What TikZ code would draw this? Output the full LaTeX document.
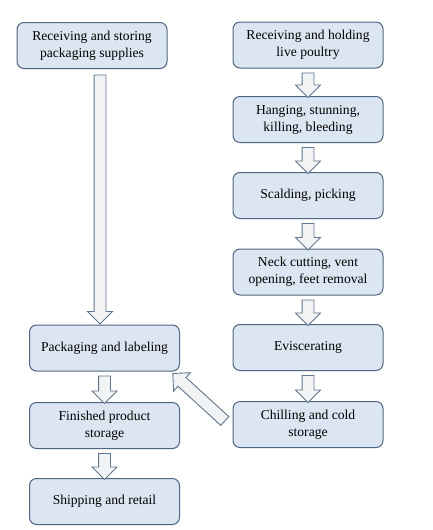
\documentclass[tikz,border=0pt]{standalone}
\usepackage{fontspec}
\setmainfont{Liberation Serif}
\usetikzlibrary{shapes.arrows,calc}
\definecolor{boxfill}{HTML}{DCE6F2}
\definecolor{boxline}{HTML}{4E6580}
\definecolor{arrfill}{HTML}{F2F3F5}
\definecolor{arrline}{HTML}{61758C}
\tikzset{
  procbox/.style={draw=boxline, line width=1pt, fill=boxfill, rounded corners=7pt,
    minimum width=150pt, minimum height=46pt, align=center, inner sep=2pt,
    font=\fontsize{13.6}{17}\selectfont},
  barrow/.style={single arrow, draw=arrline, fill=arrfill, line width=0.9pt,
    single arrow head extend=6.5pt, inner xsep=0pt, inner ysep=5.5pt,
    minimum width=0pt, shape border uses incircle=false, anchor=center}
}
\newcommand\blockarrow[3]{%
  \path let \p1=(#1), \p2=(#2),
    \n1={veclen(\x2-\x1,\y2-\y1)}, \n2={atan2(\y2-\y1,\x2-\x1)} in
    node[barrow, rotate=\n2, minimum height=\n1] (#3) at ($(#1)!0.5!(#2)$) {};}
\begin{document}
\begin{tikzpicture}[x=1pt,y=-1pt]
\useasboundingbox (0,0) rectangle (432,530);
% left column
\node[procbox] (l1) at (92,45.5) {Receiving and storing\\packaging supplies};
\node[procbox] (l2) at (104.5,348) {Packaging and labeling};
\node[procbox] (l3) at (104.5,425.5) {Finished product\\storage};
\node[procbox] (l4) at (104.5,501.5) {Shipping and retail};
% right column
\node[procbox] (r1) at (308,45) {Receiving and holding\\live poultry};
\node[procbox] (r2) at (308,119.5) {Hanging, stunning,\\killing, bleeding};
\node[procbox] (r3) at (308,195.5) {Scalding, picking};
\node[procbox] (r4) at (308,272) {Neck cutting, vent\\opening, feet removal};
\node[procbox] (r5) at (308,347.5) {Eviscerating};
\node[procbox] (r6) at (308,424.5) {Chilling and cold\\storage};
% arrow end points
\coordinate (r1b) at ($(r1.south)+(0,1.5)$); \coordinate (r2t) at ($(r2.north)+(0,-1.5)$);
\coordinate (r2b) at ($(r2.south)+(0,1.5)$); \coordinate (r3t) at ($(r3.north)+(0,-1.5)$);
\coordinate (r3b) at ($(r3.south)+(0,1.5)$); \coordinate (r4t) at ($(r4.north)+(0,-1.5)$);
\coordinate (r4b) at ($(r4.south)+(0,1.5)$); \coordinate (r5t) at ($(r5.north)+(0,-1.5)$);
\coordinate (r5b) at ($(r5.south)+(0,1.5)$); \coordinate (r6t) at ($(r6.north)+(0,-1.5)$);
\coordinate (l2b) at ($(l2.south)+(0,1.5)$); \coordinate (l3t) at ($(l3.north)+(0,-1.5)$);
\coordinate (l3b) at ($(l3.south)+(0,1.5)$); \coordinate (l4t) at ($(l4.north)+(0,-1.5)$);
\coordinate (l1b) at ($(l1.south)+(8,3)$); \coordinate (l2t) at ($(l2.north)+(-4.5,-3.5)$);
\coordinate (r6w) at ($(r6.west)+(-5.5,-1.5)$); \coordinate (l2se) at ($(l2.south east)+(-5,4)$);
% block arrows
\blockarrow{r1b}{r2t}{a1}
\blockarrow{r2b}{r3t}{a2}
\blockarrow{r3b}{r4t}{a3}
\blockarrow{r4b}{r5t}{a4}
\blockarrow{r5b}{r6t}{a5}
\blockarrow{l2b}{l3t}{a6}
\blockarrow{l3b}{l4t}{a7}
\blockarrow{l1b}{l2t}{a8}
\blockarrow{r6w}{l2se}{a9}
\end{tikzpicture}
\end{document}
